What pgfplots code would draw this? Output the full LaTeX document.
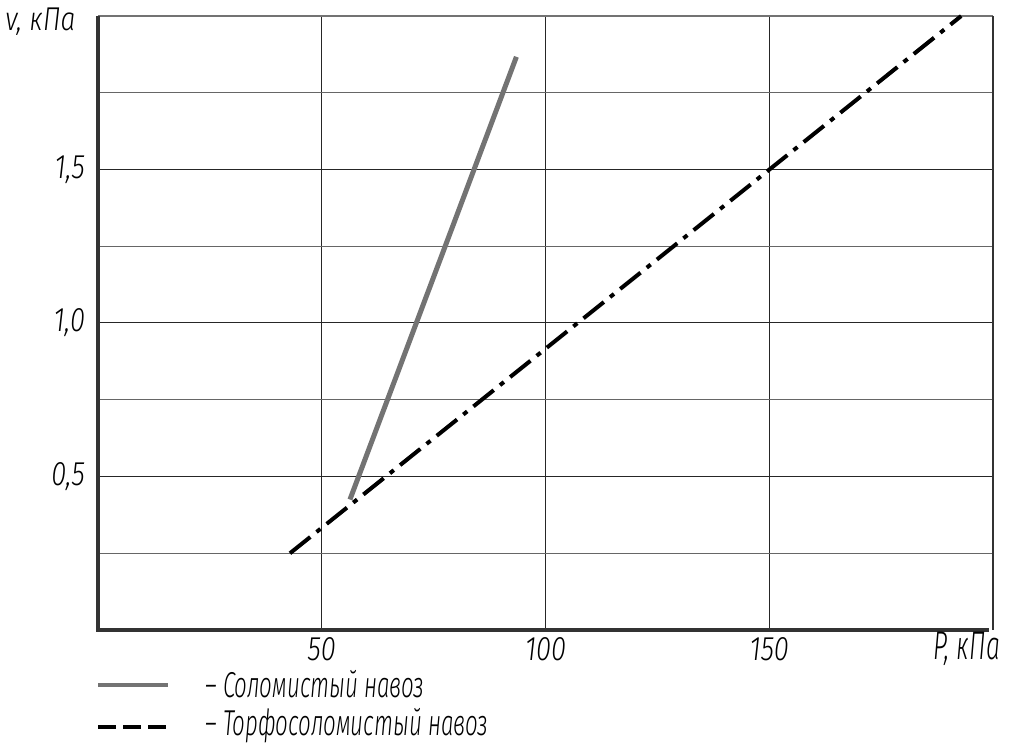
\documentclass[border=0pt]{standalone}
\usepackage{pgfplots}
\pgfplotsset{compat=1.18}
\usepackage{fontspec}
\setmainfont{Fira Sans}[UprightFont=* Light Italic, FakeStretch=0.8]
\newfontfamily\legfont{Fira Sans}[UprightFont=* Light Italic, FakeStretch=0.62]
\begin{document}
\fontsize{16}{18}\selectfont
\begin{tikzpicture}
\useasboundingbox (0,0) rectangle (508.5pt,372pt);
\begin{axis}[
  at={(49pt,57pt)}, anchor=south west,
  scale only axis, width=447.5pt, height=307pt,
  xmin=0, xmax=200, ymin=0, ymax=2,
  xtick={50,100,150}, ytick={0.5,1,1.5},
  minor ytick={0.25,0.75,1.25,1.75},
  grid=both,
  major grid style={black!85, line width=0.5pt},
  minor grid style={black!60, line width=0.5pt},
  tick style={draw=none},
  axis line style={draw=none},
  /pgf/number format/assume math mode=true,
  yticklabel style={/pgf/number format/use comma, /pgf/number format/fixed, /pgf/number format/fixed zerofill, /pgf/number format/precision=1, xshift=-1pt},
  ticklabel style={font=\fontsize{17}{18}\selectfont},
  xticklabel style={yshift=2pt},
  clip=false,
]
\draw[black!55, line width=0.6pt] (axis cs:0,2) -- (axis cs:200,2);
\draw[black!80, line width=0.6pt] (axis cs:200,0) -- (axis cs:200,2);
\draw[black!80, line width=2pt] (axis cs:0,2) -- (axis cs:0,0) -- (axis cs:199,0);
\addplot[black!55, line width=2.5pt] coordinates {(56.3,0.425) (93.5,1.867)};
\addplot[black, line width=2pt, dash pattern=on 13pt off 4pt on 2.5pt off 4pt] coordinates {(42.9,0.25) (192.9,2.0)};
\end{axis}
\node[anchor=west, inner sep=0pt, font=\fontsize{16.5}{18}\selectfont] at (2.5pt,361pt) {v, кПа};
\node[inner sep=0pt, font=\legfont\fontsize{20}{22}\selectfont] at (483.5pt,47.5pt) {P, кПа};
\draw[black!55, line width=2.2pt] (49pt,29.5pt) -- (84pt,29.5pt);
\node[anchor=west, inner sep=0pt, font=\legfont\fontsize{18}{20}\selectfont] at (102.5pt,30pt) {– Соломистый навоз};
\draw[black, line width=1.8pt, dash pattern=on 9pt off 3.5pt] (49pt,8.5pt) -- (84pt,8.5pt);
\node[anchor=west, inner sep=0pt, font=\legfont\fontsize{18}{20}\selectfont] at (102.5pt,9pt) {– Торфосоломистый навоз};
\end{tikzpicture}
\end{document}
